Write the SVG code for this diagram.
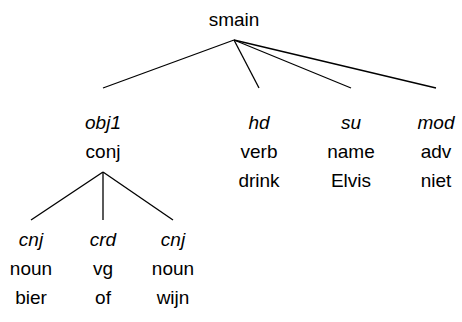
<svg xmlns="http://www.w3.org/2000/svg" width="462" height="322" viewBox="0 0 462 322">
<style>
text{font-family:"Liberation Sans",Arial,sans-serif;font-size:19px;text-anchor:middle;fill:#000}
.rel{font-style:italic}
.edge{stroke:#000;stroke-width:1.3;fill:none}
</style>
<rect width="462" height="322" fill="#fff"/>
<g id="connectors">
<line class="edge" x1="234" y1="40" x2="103" y2="88"/>
<line class="edge" x1="234" y1="40" x2="259" y2="88"/>
<line class="edge" x1="234" y1="40" x2="351" y2="88"/>
<line class="edge" x1="234" y1="40" x2="436" y2="88"/>
<line class="edge" x1="103" y1="172" x2="31" y2="220"/>
<line class="edge" x1="103" y1="172" x2="103" y2="220"/>
<line class="edge" x1="103" y1="172" x2="173" y2="220"/>
</g>
<g id="smain"><text x="234" y="26">smain</text></g>
<g id="obj1"><text class="rel" x="103" y="129">obj1</text><text x="103" y="158">conj</text></g>
<g id="hd"><text class="rel" x="259" y="129">hd</text><text x="259" y="158">verb</text><text x="259" y="187">drink</text></g>
<g id="su"><text class="rel" x="351" y="129">su</text><text x="351" y="158">name</text><text x="351" y="187">Elvis</text></g>
<g id="mod"><text class="rel" x="436" y="129">mod</text><text x="436" y="158">adv</text><text x="436" y="187">niet</text></g>
<g id="cnj1"><text class="rel" x="31" y="246">cnj</text><text x="31" y="275">noun</text><text x="31" y="304">bier</text></g>
<g id="crd"><text class="rel" x="103" y="246">crd</text><text x="103" y="275">vg</text><text x="103" y="304">of</text></g>
<g id="cnj2"><text class="rel" x="173" y="246">cnj</text><text x="173" y="275">noun</text><text x="173" y="304">wijn</text></g>
</svg>
